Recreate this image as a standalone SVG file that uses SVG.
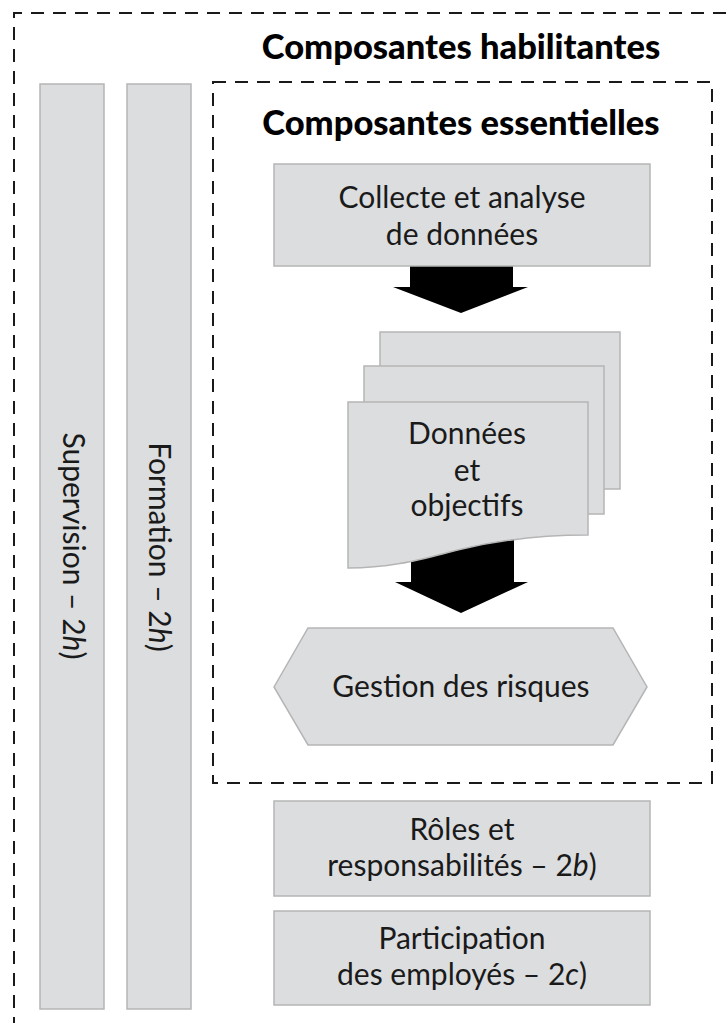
<svg xmlns="http://www.w3.org/2000/svg" width="728" height="1023" viewBox="0 0 728 1023">
<style>
.dash{fill:none;stroke:#1a1a1a;stroke-width:2;stroke-dasharray:13 9}
.box{fill:#dcdddf;stroke:#b5b5b5;stroke-width:1.5}
.t{font-family:Lato,"Liberation Sans",sans-serif;font-size:30px;fill:#1a1a1a;text-anchor:middle}
.h{font-family:Lato,"Liberation Sans",sans-serif;font-size:34.5px;font-weight:900;fill:#000;text-anchor:middle}
.it{font-style:italic}
.arrow{fill:#000}
</style>
<rect width="728" height="1023" fill="#fff"/>
<g id="enabling">
<path class="dash" d="M14,1030 V13 H740"/>
<text class="h" x="461" y="59">Composantes habilitantes</text>
</g>
<g id="supervision">
<rect class="box" x="40" y="84" width="64" height="925"/>
<text class="t" transform="translate(63,546) rotate(90)" x="0" y="0">Supervision – 2<tspan class="it">h</tspan>)</text>
</g>
<g id="formation">
<rect class="box" x="127" y="84" width="64" height="925"/>
<text class="t" transform="translate(149,547) rotate(90)" x="0" y="0">Formation – 2<tspan class="it">h</tspan>)</text>
</g>
<g id="essential">
<rect class="dash" x="213" y="82" width="499" height="701"/>
<text class="h" x="461" y="135">Composantes essentielles</text>
</g>
<g id="connectors">
<polygon class="arrow" points="410,265 513,265 513,287 528,287 461,313 393,287 410,287"/>
<polygon class="arrow" points="411,530 514,530 514,582 528,582 461,613 395,582 411,582"/>
</g>
<g id="collecte">
<rect class="box" x="274" y="164" width="376" height="102"/>
<text class="t" x="462" y="208">Collecte et analyse</text>
<text class="t" x="462" y="245">de données</text>
</g>
<g id="donnees">
<rect class="box" x="380" y="332" width="240" height="157"/>
<rect class="box" x="364" y="366" width="240" height="148"/>
<path class="box" d="M348,402 H588 V535 C540,535 500,540 462,549 C425,558 395,568 348,568 Z"/>
<text class="t" x="467" y="444">Données</text>
<text class="t" x="467" y="481">et</text>
<text class="t" x="467" y="516">objectifs</text>
</g>
<g id="gestion">
<polygon class="box" points="274,687 308,628 613,628 647,687 613,745 308,745"/>
<text class="t" x="461" y="697">Gestion des risques</text>
</g>
<g id="roles">
<rect class="box" x="274" y="801" width="376" height="95"/>
<text class="t" x="462" y="840">Rôles et</text>
<text class="t" x="462" y="876">responsabilités – 2<tspan class="it">b</tspan>)</text>
</g>
<g id="participation">
<rect class="box" x="274" y="911" width="376" height="94"/>
<text class="t" x="462" y="949">Participation</text>
<text class="t" x="462" y="985">des employés – 2<tspan class="it">c</tspan>)</text>
</g>
</svg>
